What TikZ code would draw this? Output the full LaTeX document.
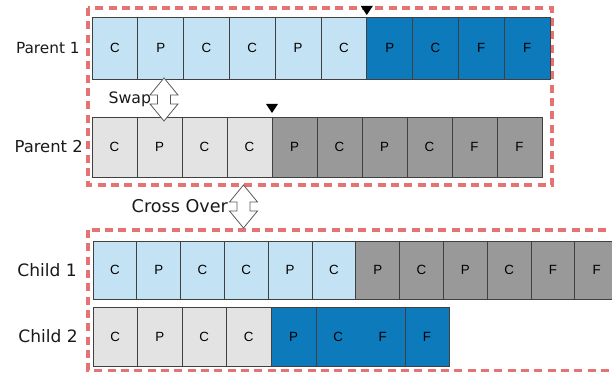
\documentclass[tikz,border=0pt]{standalone}
\usepackage{fontspec}
\setmainfont{DejaVu Sans}
\newfontfamily\cellfont{Liberation Sans}
\usetikzlibrary{positioning}
\definecolor{lightblue}{HTML}{C3E3F5}
\definecolor{darkblue}{HTML}{0D7BBB}
\definecolor{lightgrey}{HTML}{E3E3E3}
\definecolor{darkgrey}{HTML}{999999}
\definecolor{cutred}{HTML}{E57373}
\begin{document}
\begin{tikzpicture}[x=0.75pt, y=-0.75pt,
  gene/.style={draw=black!75, line width=0.6pt, inner sep=0pt, outer sep=0pt,
    font=\cellfont\fontsize{10}{10}\selectfont},
  rowlabel/.style={inner sep=0pt, text=black!90, font=\fontsize{#1}{#1}\selectfont},
  cutbox/.style={draw=cutred, line width=2.3pt, dash pattern=on 6pt off 4pt},
  dblarrow/.pic={\draw[fill=white, draw=black!65, line width=0.6pt]
    (0,-21.5) -- (14,-4.5) -- (6.5,-4.5) -- (6.5,4.5) -- (14,4.5) -- (0,21.5)
    -- (-14,4.5) -- (-6.5,4.5) -- (-6.5,-4.5) -- (-14,-4.5) -- cycle;}]
\clip (0,0) rectangle (612,373);
% parents and children
\draw[cutbox] (88,8) rectangle (552,185);
\draw[cutbox] (88,230) rectangle (640,370.5);
\foreach \t/\c [count=\i from 0] in {C/lightblue,P/lightblue,C/lightblue,C/lightblue,P/lightblue,C/lightblue,P/darkblue,C/darkblue,F/darkblue,F/darkblue}
  \node[gene, fill=\c, minimum width=34.35pt, minimum height=46.5pt] (P1_\i) at ({114.9+45.8*\i},48) {\t};
\foreach \t/\c [count=\i from 0] in {C/lightgrey,P/lightgrey,C/lightgrey,C/lightgrey,P/darkgrey,C/darkgrey,P/darkgrey,C/darkgrey,F/darkgrey,F/darkgrey}
  \node[gene, fill=\c, minimum width=33.75pt, minimum height=45pt] (P2_\i) at ({114.5+45*\i},147) {\t};
\foreach \t/\c [count=\i from 0] in {C/lightblue,P/lightblue,C/lightblue,C/lightblue,P/lightblue,C/lightblue,P/darkgrey,C/darkgrey,P/darkgrey,C/darkgrey,F/darkgrey,F/darkgrey}
  \node[gene, fill=\c, minimum width=32.85pt, minimum height=43.5pt] (C1_\i) at ({114.9+43.8*\i},270) {\t};
\foreach \t [count=\i from 0] in {C,P,C,C}
  \node[gene, fill=lightgrey, minimum width=33.4pt, minimum height=44.25pt] (C2_\i) at ({115.25+44.5*\i},336.5) {\t};
\node[gene, fill=darkblue, minimum width=33.75pt, minimum height=44.25pt, right=0pt of C2_3] (C2_4) {P};
\node[gene, fill=darkblue, minimum width=66.75pt, minimum height=44.25pt, right=0pt of C2_4] (C2_5) {\makebox[33.375pt]{C}\makebox[33.375pt]{F}};
\node[gene, fill=darkblue, minimum width=33pt, minimum height=44.25pt, right=0pt of C2_5] (C2_6) {F};
% labels
\node[rowlabel=11.5, left=9pt of P1_0] {Parent 1};
\node[rowlabel=12.3, left=6.75pt of P2_0] {Parent 2};
\node[rowlabel=12.8, left=12pt of C1_0] {Child 1};
\node[rowlabel=12.8, left=11.25pt of C2_0] {Child 2};
% cut points
\fill ([yshift=1.5pt]P1_5.north east) -- ++(-6,-9) -- ++(12,0) -- cycle;
\fill ([yshift=3pt]P2_3.north east) -- ++(-6,-9) -- ++(12,0) -- cycle;
% swap and cross over
\coordinate (swap) at (164,99.5);
\pic at (swap) {dblarrow};
\node[rowlabel=11.8, left=9.5pt of swap] {Swap};
\coordinate (cross) at (243.5,206.5);
\pic at (cross) {dblarrow};
\node[rowlabel=13.2, left=11.5pt of cross] {Cross Over};
\end{tikzpicture}
\end{document}
